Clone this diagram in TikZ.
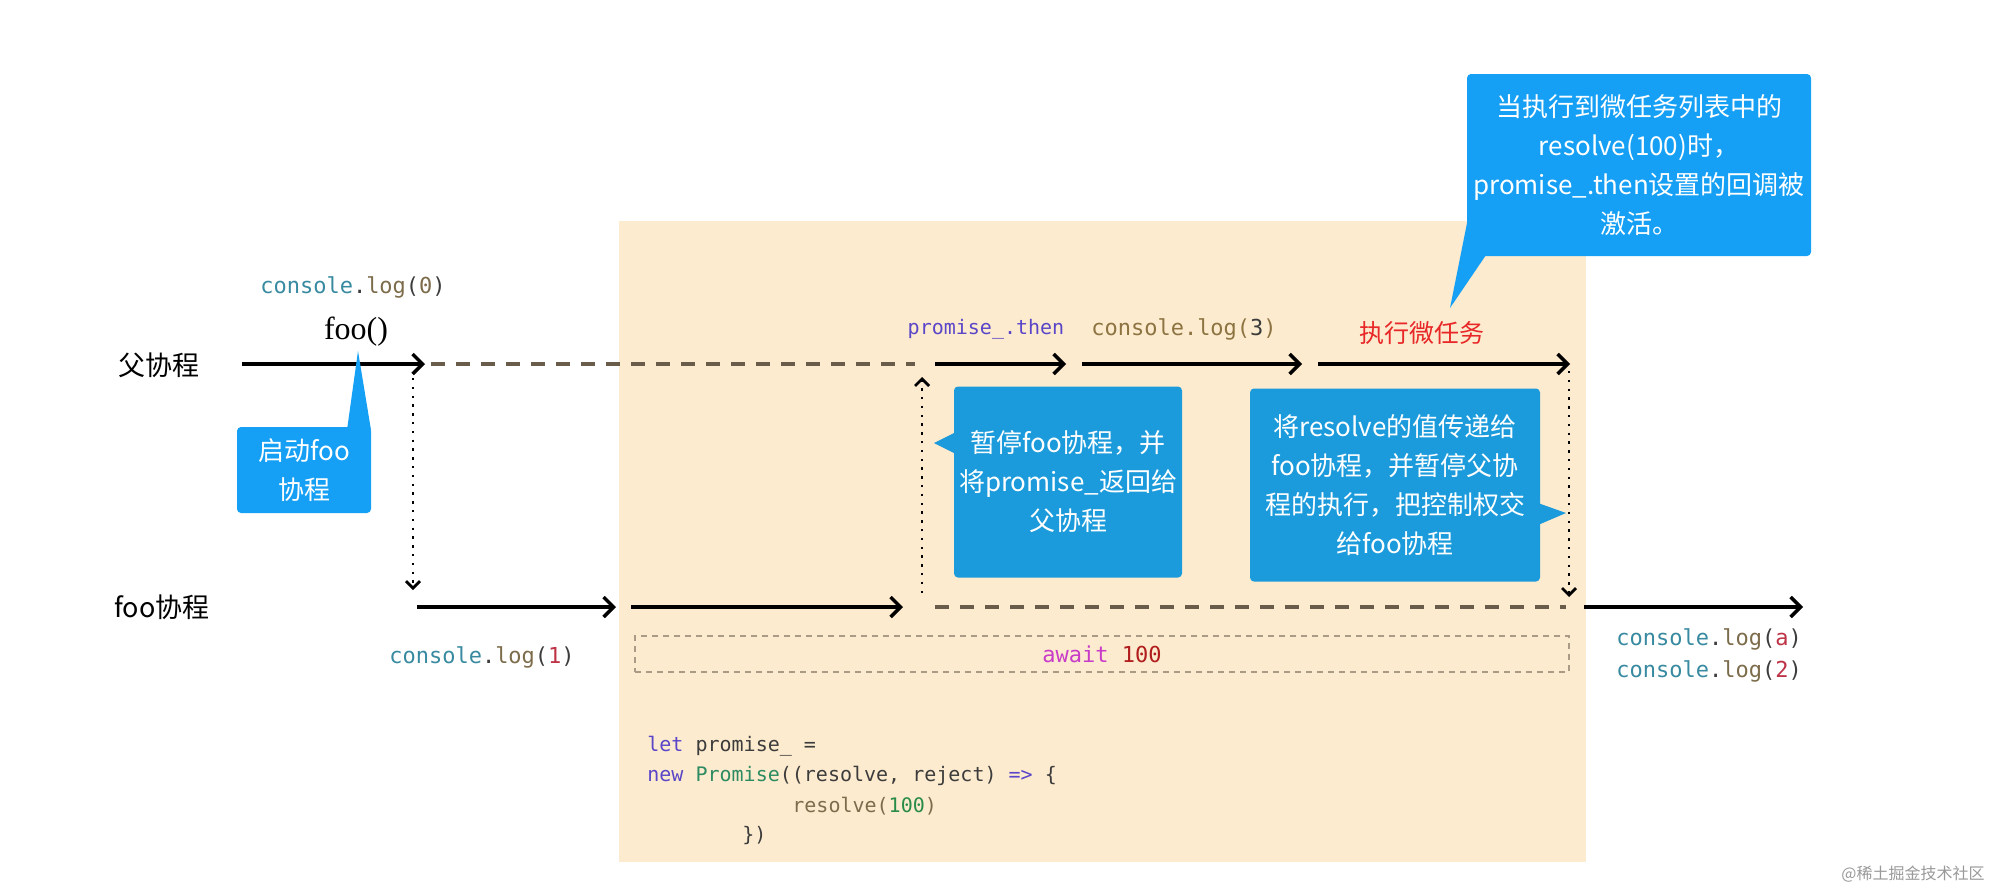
\documentclass[tikz,border=0pt]{standalone}
\usepackage{fontspec}
\setmainfont{Liberation Serif}
\newfontfamily\cjk{Noto Sans CJK SC}
\newfontfamily\mono{DejaVu Sans Mono}
\usetikzlibrary{arrows.meta}
\definecolor{peach}{RGB}{253,235,207}
\definecolor{bblue}{RGB}{22,160,245}
\definecolor{mblue}{RGB}{27,155,220}
\definecolor{dashc}{RGB}{105,92,75}
\definecolor{cteal}{RGB}{56,138,160}
\definecolor{cbrown}{RGB}{125,108,75}
\definecolor{cred}{RGB}{190,50,70}
\definecolor{cpurple}{RGB}{90,70,200}
\definecolor{cgreen}{RGB}{40,140,70}
\definecolor{cmag}{RGB}{200,60,200}
\definecolor{cdark}{RGB}{60,60,60}
\definecolor{tred}{RGB}{232,40,40}
\definecolor{olive}{RGB}{140,115,65}
\definecolor{gridc}{RGB}{170,155,135}
\definecolor{numred}{RGB}{176,30,30}
\begin{document}
\begin{tikzpicture}[x=0.5pt,y=-0.5pt,
  solidarrow/.style={line width=1.7pt, -{Straight Barb[length=5pt,width=10pt]}},
  dashline/.style={dashc, line width=1.8pt, dash pattern=on 7pt off 5.5pt},
  dotarrow/.style={line width=1.4pt, dash pattern=on 1.2pt off 3.2pt, -{Straight Barb[length=3.5pt,width=7pt]}},
  codetxt/.style={font=\mono\fontsize{11}{13}\selectfont, inner sep=0pt, text=cdark},
  smallcode/.style={font=\mono\fontsize{10}{12}\selectfont, inner sep=0pt, text=cdark, anchor=west},
  cjklabel/.style={font=\cjk\fontsize{13.5}{16}\selectfont, inner sep=0pt},
  callout/.style={rounded corners=2pt, text=white, align=center, inner sep=0pt,
    font=\cjk\fontsize{13}{19.5}\selectfont}
]
\path[use as bounding box] (0,0) rectangle (2000,890);
\fill[white] (0,0) rectangle (2000,890);
\fill[peach] (619,221) rectangle (1586,862);

% left labels
\node[cjklabel] (fu) at (159,365) {父协程};
\node[cjklabel] (foolbl) at (162,607) {foo协程};

% top texts
\node[codetxt] (c0) at (353,287) {\textcolor{cteal}{console}.\textcolor{cbrown}{log}(\textcolor{cbrown}{0})};
\node[font=\fontsize{16}{18}\selectfont, inner sep=0pt] (foo) at (356,332) {foo()};
\node[font=\mono\fontsize{10}{12}\selectfont, inner sep=0pt, text=cpurple] (then) at (986,329) {promise\_.then};
\node[codetxt, text=olive] (c3) at (1184,329) {console.log(\textcolor{cdark}{3})};
\node[font=\cjk\fontsize{12.5}{14}\selectfont, inner sep=0pt, text=tred] (micro) at (1422,333) {执行微任务};

% parent line
\coordinate (pA) at (242,364);
\coordinate (pB) at (425,364);
\coordinate (pC) at (431,364);
\coordinate (pD) at (915,364);
\coordinate (pE) at (935,364);
\coordinate (pF) at (1066,364);
\coordinate (pG) at (1082,364);
\coordinate (pH) at (1302,364);
\coordinate (pI) at (1318,364);
\coordinate (pJ) at (1570,364);
\draw[solidarrow] (pA) -- (pB);
\draw[dashline] (pC) -- (pD);
\draw[solidarrow] (pE) -- (pF);
\draw[solidarrow] (pG) -- (pH);
\draw[solidarrow] (pI) -- (pJ);

% foo line
\coordinate (fA) at (417,607);
\coordinate (fB) at (616,607);
\coordinate (fC) at (631,607);
\coordinate (fD) at (903,607);
\coordinate (fE) at (935,607);
\coordinate (fF) at (1566,607);
\coordinate (fG) at (1584,607);
\coordinate (fH) at (1803,607);
\draw[solidarrow] (fA) -- (fB);
\draw[solidarrow] (fC) -- (fD);
\draw[dashline] (fE) -- (fF);
\draw[solidarrow] (fG) -- (fH);

% vertical dotted
\coordinate (v1a) at (413,378);
\coordinate (v1b) at (413,590);
\coordinate (v2a) at (922,593);
\coordinate (v2b) at (922,377);
\coordinate (v3a) at (1569,371);
\coordinate (v3b) at (1569,597);
\draw[dotarrow] (v1a) -- (v1b);
\draw[dotarrow] (v2a) -- (v2b);
\draw[dotarrow] (v3a) -- (v3b);

% callout 1
\fill[bblue] (347,430) -- (358,351) -- (371,430) -- cycle;
\node[callout, fill=bblue, minimum width=67pt, minimum height=43pt] (b1) at (304,470) {启动foo\\协程};

% callout 2
\fill[mblue] (956,432) -- (934,443) -- (956,454) -- cycle;
\node[callout, fill=mblue, minimum width=114pt, minimum height=95.5pt] (b2) at (1068,482) {暂停foo协程，并\\将promise\_返回给\\父协程};

% callout 3
\fill[mblue] (1538,503) -- (1566,513) -- (1538,525) -- cycle;
\node[callout, fill=mblue, minimum width=145pt, minimum height=96.5pt] (b3) at (1395,485) {将resolve的值传递给\\foo协程，并暂停父协\\程的执行，把控制权交\\给foo协程};

% top callout
\fill[bblue] (1468,218) -- (1450,308) -- (1486,255) -- cycle;
\node[callout, fill=bblue, minimum width=172pt, minimum height=91pt] (b4) at (1639,165) {当执行到微任务列表中的\\resolve(100)时，\\promise\_.then设置的回调被\\激活。};

% bottom texts
\node[codetxt] (c1) at (482,657) {\textcolor{cteal}{console}.\textcolor{cbrown}{log}(\textcolor{cred}{1})};
\node[codetxt, draw=gridc, line width=0.9pt, dash pattern=on 3pt off 2.5pt, minimum width=467pt, minimum height=18pt] (aw) at (1102,654) {\textcolor{cmag}{await} \textcolor{numred}{100}};
\node[codetxt, anchor=west] (ca) at (1616,639) {\textcolor{cteal}{console}.\textcolor{cbrown}{log}(\textcolor{cred}{a})};
\node[codetxt, anchor=west] (c2) at (1616,671) {\textcolor{cteal}{console}.\textcolor{cbrown}{log}(\textcolor{cred}{2})};

% code block
\node[smallcode] (l1) at (647,746) {\textcolor{cpurple}{let} promise\_ =};
\node[smallcode] (l2) at (647,776) {\textcolor{cpurple}{new} \textcolor{cgreen!70!cteal}{Promise}((resolve, reject) \textcolor{cpurple}{=>} \{};
\node[smallcode] (l3) at (792,806) {\textcolor{cbrown}{resolve(}\textcolor{cgreen}{100}\textcolor{cbrown}{)}};
\node[smallcode] (l4) at (742,836) {\})};

% watermark
\node[font=\cjk\fontsize{8}{9}\selectfont, text=black!40, inner sep=0pt] (wm) at (1913,874) {@稀土掘金技术社区};
\end{tikzpicture}
\end{document}
